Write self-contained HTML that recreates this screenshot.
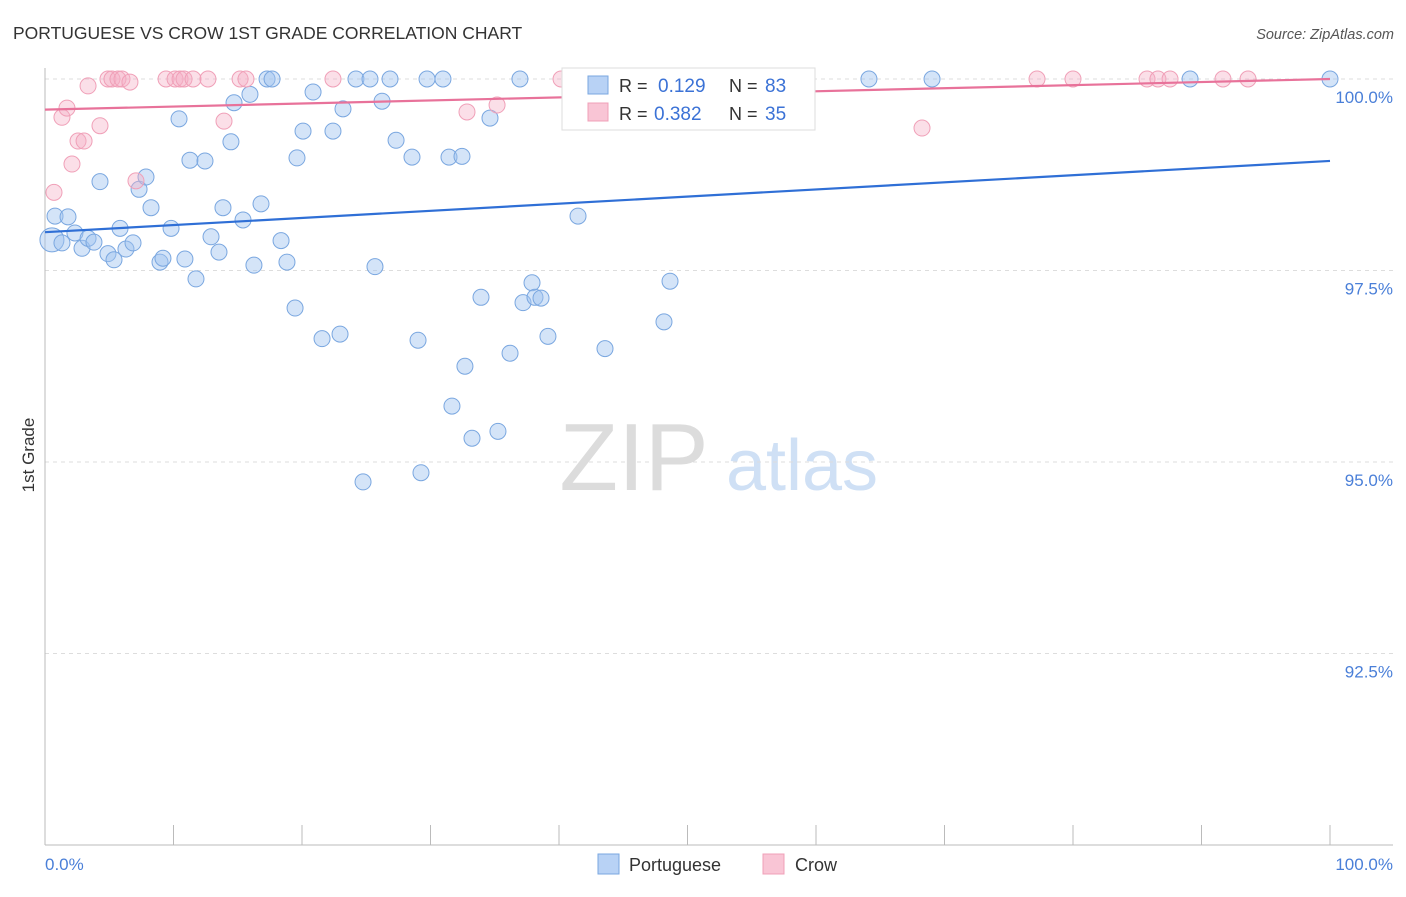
<!DOCTYPE html>
<html><head><meta charset="utf-8"><style>
body{margin:0;background:#fff;font-family:"Liberation Sans",sans-serif;}
svg text{font-family:"Liberation Sans",sans-serif;}
</style></head><body>
<svg id="chart" width="1406" height="892" viewBox="0 0 1406 892" xmlns="http://www.w3.org/2000/svg">
<text x="13" y="39" font-size="17.5" fill="#333">PORTUGUESE VS CROW 1ST GRADE CORRELATION CHART</text>
<text x="1394" y="39" font-size="14.5" fill="#555" text-anchor="end" font-style="italic">Source: ZipAtlas.com</text>
<g>
<text x="634" y="490" font-size="96" fill="#dcdcdc" text-anchor="middle" font-family="Liberation Serif, serif">ZIP</text>
<text x="802" y="490" font-size="72" fill="#cfe0f5" text-anchor="middle">atlas</text>
</g>
<g id="grid"></g>
<g id="axes"></g>
<g id="points"></g>
<g id="trends"></g>
<text transform="translate(34,455) rotate(-90)" font-size="17" fill="#333" text-anchor="middle">1st Grade</text>
<g>
<rect x="562" y="68" width="253" height="62" fill="#fff" stroke="#ddd"/>
<rect x="588" y="76" width="20" height="18" fill="#b8d2f5" stroke="#7aa7e0"/>
<text x="619" y="92" font-size="18" fill="#333">R =</text>
<text x="658" y="92" font-size="19" fill="#3b72d6">0.129</text>
<text x="729" y="92" font-size="18" fill="#333">N =</text>
<text x="765" y="92" font-size="19" fill="#3b72d6">83</text>
<rect x="588" y="103" width="20" height="18" fill="#f9c5d5" stroke="#f0a0b8"/>
<text x="619" y="120" font-size="18" fill="#333">R =</text>
<text x="654" y="120" font-size="19" fill="#3b72d6">0.382</text>
<text x="729" y="120" font-size="18" fill="#333">N =</text>
<text x="765" y="120" font-size="19" fill="#3b72d6">35</text>
</g>
<g>
<rect x="598" y="854" width="21" height="20" fill="#b8d2f5" stroke="#7aa7e0"/>
<text x="629" y="871" font-size="18" fill="#333">Portuguese</text>
<rect x="763" y="854" width="21" height="20" fill="#f9c5d5" stroke="#f0a0b8"/>
<text x="795" y="871" font-size="18" fill="#333">Crow</text>
</g>
</svg>
<script>
const yTicks=[100,97.5,95,92.5];
const yTickLabels=["100.0%","97.5%","95.0%","92.5%"];
const xTickCount=10;
const blueX=[0.54,0.78,1.79,1.32,2.33,2.88,3.35,3.81,4.28,4.90,5.37,5.84,6.30,6.85,7.32,7.86,8.25,8.95,9.18,9.81,10.43,10.89,11.28,11.75,12.45,12.92,13.54,13.85,14.47,14.71,15.41,15.95,16.26,16.81,17.28,17.67,18.37,18.83,19.46,19.61,20.08,20.86,21.56,22.41,22.96,23.19,24.20,24.75,25.29,25.68,26.23,26.85,27.32,28.56,29.03,29.26,29.73,30.97,31.44,31.67,32.45,32.68,33.23,33.93,34.63,35.25,36.19,36.96,37.20,37.90,38.13,38.60,39.14,41.48,43.58,48.17,48.64,51.36,64.12,69.03,89.11,100];
const blueY=[97.90,98.21,98.20,97.86,97.99,97.79,97.92,97.87,98.66,97.72,97.64,98.05,97.78,97.86,98.56,98.72,98.32,97.61,97.66,98.05,99.48,97.65,98.94,97.39,98.93,97.94,97.74,98.32,99.18,99.69,98.16,99.80,97.57,98.37,100,100,97.89,97.61,97.01,98.97,99.32,99.83,96.61,99.32,96.67,99.61,100,94.74,100,97.55,99.71,100,99.20,98.98,96.59,94.86,100,100,98.98,95.73,98.99,96.25,95.31,97.15,99.49,95.40,96.42,100,97.08,97.34,97.15,97.14,96.64,98.21,96.48,96.83,97.36,100,100,100,100,100];
const pinkX=[0.70,1.32,1.71,2.10,2.57,3.04,3.35,4.28,4.90,5.21,5.68,5.99,6.61,7.08,9.42,10.12,10.51,10.82,11.52,12.68,13.93,15.18,15.64,22.41,32.84,35.18,40.16,56.42,68.25,77.20,80.00,85.76,86.61,87.55,91.67,93.62];
const pinkY=[98.52,99.50,99.62,98.89,99.19,99.19,99.91,99.39,100,100,100,100,99.96,98.67,100,100,100,100,100,100,99.45,100,100,100,99.57,99.66,100,100,99.36,100,100,100,100,100,100,100];
const blueTrend=[98.0,98.93];
const pinkTrend=[99.6,100.0];
const NS="http://www.w3.org/2000/svg";
const X0=45,X1=1330,YT=79,YB=845,VMIN=90,VMAX=100;
const sx=v=>X0+(v/100)*(X1-X0);
const sy=v=>YT+(VMAX-v)/(VMAX-VMIN)*(YB-YT);
function mk(tag,at,parent){const e=document.createElementNS(NS,tag);for(const k in at)e.setAttribute(k,at[k]);parent.appendChild(e);return e;}
const grid=document.getElementById('grid'),axes=document.getElementById('axes');
yTicks.forEach((t,i)=>{
 const l=mk('line',{x1:45,x2:1393,y1:sy(t),y2:sy(t),stroke:'#ddd','stroke-dasharray':'4,4'},grid);
 
 
 const tx=mk('text',{x:1393,y:sy(t)+24,'font-size':17,fill:'#4a7fd8','text-anchor':'end'},axes);
 tx.textContent=yTickLabels[i];
 
 
});
const ya=mk('line',{x1:45,x2:45,y1:68,y2:845,stroke:'#bbb'},axes);


const xa=mk('line',{x1:45,x2:1393,y1:845,y2:845,stroke:'#bbb'},axes);


for(let i=0;i<=xTickCount;i++){
 const x=sx(i*100/xTickCount);
 const t=mk('line',{x1:x,x2:x,y1:825,y2:845,stroke:'#bbb'},axes);
 
 
}
const xl0=mk('text',{x:45,y:870,'font-size':17,fill:'#4a7fd8'},axes);xl0.textContent='0.0%';


const xl1=mk('text',{x:1393,y:870,'font-size':17,fill:'#4a7fd8','text-anchor':'end'},axes);xl1.textContent='100.0%';


const pts=document.getElementById('points');
blueX.forEach((v,i)=>{
 const c=mk('circle',{cx:sx(v),cy:sy(blueY[i]),r:i===0?12:8,fill:'rgba(160,195,240,0.45)',stroke:'#7aa7e0','stroke-width':1},pts);
 
 
});
pinkX.forEach((v,i)=>{
 const c=mk('circle',{cx:sx(v),cy:sy(pinkY[i]),r:8,fill:'rgba(245,175,198,0.4)',stroke:'#f0a0b8','stroke-width':1},pts);
 
 
});
const tr=document.getElementById('trends');
const bl=mk('line',{x1:sx(0),y1:sy(blueTrend[0]),x2:sx(100),y2:sy(blueTrend[1]),stroke:'#2f6fd6','stroke-width':2.2},tr);


const pl=mk('line',{x1:sx(0),y1:sy(pinkTrend[0]),x2:sx(100),y2:sy(pinkTrend[1]),stroke:'#e8729a','stroke-width':2.2},tr);


</script>
</body></html>
